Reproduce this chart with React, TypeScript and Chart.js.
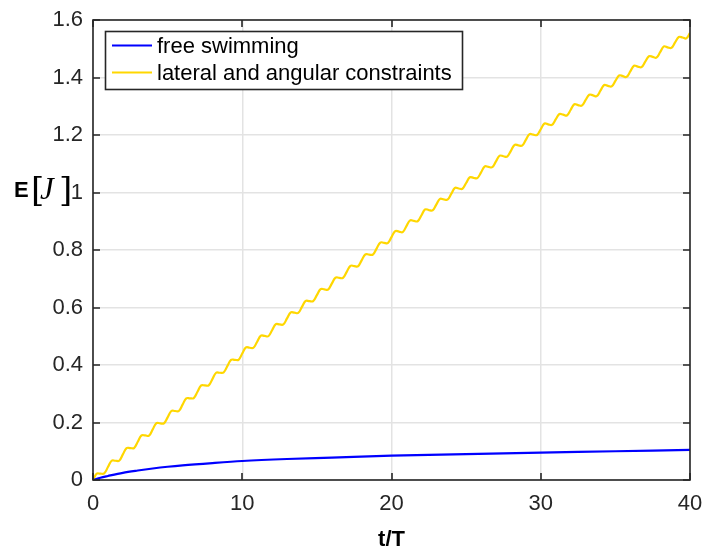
import React, { useEffect, useRef } from "react";
import { Chart, registerables } from "chart.js";

Chart.register(...registerables);

// x tick values and y tick values
const xTicks = [0, 10, 20, 30, 40];
const yTicks = [0, 0.2, 0.4, 0.6, 0.8, 1, 1.2, 1.4, 1.6];

// free swimming series
const freeTimes = [0, 0.5, 1, 2, 3, 4, 5, 6, 8, 10, 13, 16, 20, 25, 30, 35, 40];
const freeEnergy = [0, 0.008, 0.014, 0.025, 0.033, 0.040, 0.046, 0.051, 0.059, 0.066, 0.073, 0.078, 0.085, 0.090, 0.095, 0.100, 0.105];

// lateral and angular constraints series (sampled every quarter period)
const constrainedTimes = [
  0, 0.25, 0.5, 0.75, 1, 1.25, 1.5, 1.75, 2, 2.25, 2.5, 2.75, 3, 3.25, 3.5, 3.75, 4, 4.25, 4.5, 4.75,
  5, 5.25, 5.5, 5.75, 6, 6.25, 6.5, 6.75, 7, 7.25, 7.5, 7.75, 8, 8.25, 8.5, 8.75, 9, 9.25, 9.5, 9.75,
  10, 10.25, 10.5, 10.75, 11, 11.25, 11.5, 11.75, 12, 12.25, 12.5, 12.75, 13, 13.25, 13.5, 13.75, 14, 14.25, 14.5, 14.75,
  15, 15.25, 15.5, 15.75, 16, 16.25, 16.5, 16.75, 17, 17.25, 17.5, 17.75, 18, 18.25, 18.5, 18.75, 19, 19.25, 19.5, 19.75,
  20, 20.25, 20.5, 20.75, 21, 21.25, 21.5, 21.75, 22, 22.25, 22.5, 22.75, 23, 23.25, 23.5, 23.75, 24, 24.25, 24.5, 24.75,
  25, 25.25, 25.5, 25.75, 26, 26.25, 26.5, 26.75, 27, 27.25, 27.5, 27.75, 28, 28.25, 28.5, 28.75, 29, 29.25, 29.5, 29.75,
  30, 30.25, 30.5, 30.75, 31, 31.25, 31.5, 31.75, 32, 32.25, 32.5, 32.75, 33, 33.25, 33.5, 33.75, 34, 34.25, 34.5, 34.75,
  35, 35.25, 35.5, 35.75, 36, 36.25, 36.5, 36.75, 37, 37.25, 37.5, 37.75, 38, 38.25, 38.5, 38.75, 39, 39.25, 39.5, 39.75,
  40,
];
const constrainedEnergy = [
  0, 0.022, 0.022, 0.023, 0.045, 0.067, 0.067, 0.067, 0.089, 0.111, 0.111, 0.111, 0.133, 0.155, 0.155, 0.154, 0.176, 0.198, 0.197, 0.197,
  0.218, 0.240, 0.240, 0.240, 0.262, 0.284, 0.284, 0.285, 0.307, 0.329, 0.329, 0.329, 0.351, 0.373, 0.373, 0.374, 0.396, 0.418, 0.418, 0.418,
  0.440, 0.461, 0.460, 0.460, 0.481, 0.502, 0.501, 0.500, 0.521, 0.542, 0.541, 0.541, 0.562, 0.583, 0.582, 0.581, 0.602, 0.623, 0.622, 0.622,
  0.643, 0.664, 0.663, 0.662, 0.683, 0.704, 0.703, 0.703, 0.724, 0.745, 0.744, 0.743, 0.764, 0.785, 0.784, 0.784, 0.805, 0.826, 0.825, 0.824,
  0.845, 0.866, 0.864, 0.862, 0.883, 0.903, 0.901, 0.900, 0.920, 0.941, 0.939, 0.938, 0.958, 0.978, 0.976, 0.975, 0.995, 1.016, 1.014, 1.013,
  1.033, 1.053, 1.051, 1.050, 1.070, 1.091, 1.089, 1.088, 1.108, 1.128, 1.126, 1.125, 1.145, 1.166, 1.164, 1.163, 1.183, 1.203, 1.201, 1.200,
  1.220, 1.240, 1.237, 1.235, 1.254, 1.273, 1.271, 1.268, 1.287, 1.307, 1.304, 1.302, 1.321, 1.340, 1.338, 1.335, 1.354, 1.374, 1.371, 1.369,
  1.388, 1.407, 1.405, 1.402, 1.421, 1.441, 1.438, 1.436, 1.455, 1.474, 1.472, 1.469, 1.488, 1.508, 1.505, 1.503, 1.522, 1.541, 1.539, 1.536,
  1.555,
];

const seriesLabels = ["free swimming", "lateral and angular constraints"];
const seriesColors = ["#0000ff", "#ffd700"];

const AXIS_COLOR = "#262626";
const FONT = "'Liberation Sans', Arial, Helvetica, sans-serif";

const decorPlugin = {
  id: "matlabDecor",
  afterDraw(chart: any) {
    const { ctx, chartArea } = chart;
    const { left, right, top, bottom } = chartArea;
    const xs = chart.scales.x;
    const ys = chart.scales.y;
    ctx.save();
    // box
    ctx.strokeStyle = AXIS_COLOR;
    ctx.lineWidth = 1.6;
    ctx.strokeRect(left, top, right - left, bottom - top);
    // inward ticks
    const tl = 7;
    ctx.beginPath();
    xTicks.forEach((v) => {
      const px = Math.round(xs.getPixelForValue(v));
      ctx.moveTo(px, bottom);
      ctx.lineTo(px, bottom - tl);
      ctx.moveTo(px, top);
      ctx.lineTo(px, top + tl);
    });
    yTicks.forEach((v) => {
      const py = Math.round(ys.getPixelForValue(v));
      ctx.moveTo(left, py);
      ctx.lineTo(left + tl, py);
      ctx.moveTo(right, py);
      ctx.lineTo(right - tl, py);
    });
    ctx.stroke();

    // legend
    const lx = 105.5, ly = 31.5, lw = 357, lh = 58;
    ctx.fillStyle = "#ffffff";
    ctx.fillRect(lx, ly, lw, lh);
    ctx.strokeStyle = AXIS_COLOR;
    ctx.lineWidth = 1.6;
    ctx.strokeRect(lx, ly, lw, lh);
    const rows = [45.5, 72.5];
    ctx.font = `22px ${FONT}`;
    ctx.textBaseline = "middle";
    ctx.textAlign = "left";
    rows.forEach((ry, i) => {
      ctx.strokeStyle = seriesColors[i];
      ctx.lineWidth = 2;
      ctx.beginPath();
      ctx.moveTo(112, ry);
      ctx.lineTo(152, ry);
      ctx.stroke();
      ctx.fillStyle = "#000000";
      ctx.fillText(seriesLabels[i], 157, ry + 1);
    });

    // y label: E[J]
    const cy = 189;
    ctx.fillStyle = "#000000";
    ctx.font = `bold 22px ${FONT}`;
    ctx.textBaseline = "alphabetic";
    ctx.fillText("E", 14, cy + 8);
    ctx.font = `300 34px 'DejaVu Serif', 'Liberation Serif', serif`;
    ctx.fillText("[", 31, cy + 12);
    ctx.font = `italic 31px 'Liberation Serif', 'DejaVu Serif', serif`;
    ctx.fillText("J", 40, cy + 10);
    ctx.font = `300 34px 'DejaVu Serif', 'Liberation Serif', serif`;
    ctx.fillText("]", 59, cy + 12);

    // x label
    ctx.font = `bold 22px ${FONT}`;
    ctx.textAlign = "center";
    ctx.textBaseline = "alphabetic";
    ctx.fillText("t/T", (left + right) / 2, 546);
    ctx.restore();
  },
};

export default function App() {
  const ref = useRef<HTMLCanvasElement | null>(null);
  useEffect(() => {
    if (!ref.current) return;
    const zeroPad = (s: any) => {
      s.paddingLeft = 0;
      s.paddingRight = 0;
      s.paddingTop = 0;
      s.paddingBottom = 0;
    };
    const chart = new Chart(ref.current, {
      type: "line",
      data: {
        datasets: [
          {
            label: seriesLabels[0],
            data: freeTimes.map((t, i) => ({ x: t, y: freeEnergy[i] })),
            borderColor: seriesColors[0],
            borderWidth: 2.2,
            pointRadius: 0,
            cubicInterpolationMode: "monotone",
            fill: false,
          },
          {
            label: seriesLabels[1],
            data: constrainedTimes.map((t, i) => ({ x: t, y: constrainedEnergy[i] })),
            borderColor: seriesColors[1],
            borderWidth: 2.2,
            pointRadius: 0,
            tension: 0.4,
            fill: false,
          },
        ],
      },
      options: {
        responsive: false,
        animation: false,
        layout: { padding: { left: 0, right: 15, top: 20, bottom: 0 } },
        plugins: { legend: { display: false }, tooltip: { enabled: false } },
        scales: {
          x: {
            type: "linear",
            min: 0,
            max: 40,
            afterFit: (s: any) => {
              s.height = 69;
              zeroPad(s);
            },
            afterBuildTicks: (s: any) => {
              s.ticks = xTicks.map((v) => ({ value: v }));
            },
            ticks: {
              color: AXIS_COLOR,
              font: { family: FONT, size: 22 },
              padding: 11,
              maxRotation: 0,
              callback: (v: any) => String(v),
            },
            grid: { color: "#e3e3e3", lineWidth: 1.5, drawTicks: false },
            border: { display: false },
          },
          y: {
            type: "linear",
            min: 0,
            max: 1.6,
            afterFit: (s: any) => {
              s.width = 93;
              zeroPad(s);
            },
            afterBuildTicks: (s: any) => {
              s.ticks = yTicks.map((v) => ({ value: v }));
            },
            ticks: {
              color: AXIS_COLOR,
              font: { family: FONT, size: 22 },
              padding: 10,
              callback: (v: any) => String(Math.round(Number(v) * 10) / 10),
            },
            grid: { color: "#e3e3e3", lineWidth: 1.5, drawTicks: false },
            border: { display: false },
          },
        },
      },
      plugins: [decorPlugin],
    });
    return () => chart.destroy();
  }, []);
  return (
    <div style={{ position: "absolute", left: 0, top: 0, width: 705, height: 549, background: "#ffffff" }}>
      <canvas ref={ref} width={705} height={549} style={{ display: "block" }} />
    </div>
  );
}
